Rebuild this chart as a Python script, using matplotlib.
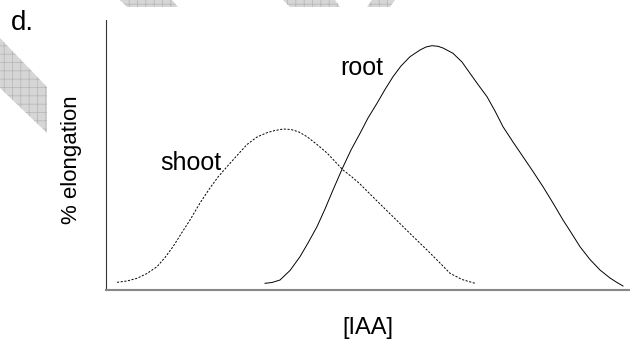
import matplotlib
matplotlib.use('Agg')
import matplotlib.pyplot as plt
from matplotlib.patches import Polygon

# values, arbitrary units (x = [IAA], y = % elongation)
shoot_x = [11, 21, 31, 41, 51, 59, 67, 75, 84, 94, 104, 112, 121, 131, 141, 151, 161, 169,
           177, 185, 193, 201, 211, 221, 229, 237, 246, 254, 270, 287, 304, 321, 334, 344,
           356, 369]
shoot_y = [7.7, 9, 11.7, 16.5, 23.3, 32.5, 43.3, 56, 70, 87, 102, 113, 123.3, 134.5,
           145.5, 153, 157.3, 159.5, 161, 160.5, 158, 153.3, 145.5, 137, 128.5, 120, 113,
           106, 90, 73.3, 56.5, 40, 27, 16.7, 10.5, 6.7]

root_x = [159, 166, 174, 184, 194, 202, 211, 219, 227, 237, 245, 254, 262, 271, 279, 287,
          295, 304, 314, 320, 326, 332, 337, 347, 356, 364, 372, 381, 389, 397, 407, 417,
          427, 437, 447, 457, 466, 474, 484, 494, 504, 511, 517]
root_y = [6.7, 7.5, 10, 19.5, 33.3, 47, 63.3, 81, 100, 123, 140, 156.6, 172, 186.7, 200.5,
          213.3, 224, 233.3, 240, 243, 244.3, 243.7, 242, 236.7, 228, 216.7, 205.5, 193.3,
          179, 163.3, 148, 133.3, 118.5, 103.3, 87, 70, 56, 43.3, 30.5, 20, 12, 7.5, 4]

plt.rcParams['font.family'] = ['Liberation Sans', 'DejaVu Sans']
plt.rcParams['hatch.linewidth'] = 0.5

fig = plt.figure(figsize=(6.3, 3.45), dpi=100)
ax = fig.add_axes([106 / 630, 55 / 345, 524 / 630, 270 / 345])

ax.plot(shoot_x, shoot_y, color='black', lw=0.7, linestyle=(0, (2.2, 1.6)))
ax.plot(root_x, root_y, color='black', lw=0.7)

ax.text(54, 120, 'shoot', fontsize=18, ha='left', va='baseline')
ax.text(234, 215, 'root', fontsize=18, ha='left', va='baseline')

ax.set_xlim(0, 524)
ax.set_ylim(0, 270)
ax.set_xticks([])
ax.set_yticks([])
ax.spines['top'].set_visible(False)
ax.spines['right'].set_visible(False)
ax.spines['left'].set_color('#333333')
ax.spines['left'].set_linewidth(0.8)
ax.spines['bottom'].set_color('#888888')
ax.spines['bottom'].set_linewidth(1.5)

fig.text(11 / 630, 1 - 30 / 345, 'd.', fontsize=20, ha='left', va='baseline')
fig.text(72 / 630, 1 - 160 / 345, '% elongation', fontsize=16, rotation=90,
         ha='center', va='center')
fig.text(368 / 630, 1 - 328 / 345, '[IAA]', fontsize=17, ha='center', va='center')

# grey cross-hatched stripes left over in the scan (decoration, pixel coords)
stripes = [
    [(0, 38), (47, 87), (47, 133), (0, 88)],
    [(120, 0), (172, 0), (178, 7), (127, 7)],
    [(283, 0), (335, 0), (340, 7), (290, 7)],
    [(372, 0), (395, 0), (390, 7), (367, 7)],
]
for pts in stripes:
    poly = Polygon([(px, 345 - py) for px, py in pts], closed=True, transform=None,
                   facecolor='#d6d6d6', edgecolor='#b4b4b4', hatch='++', lw=0)
    fig.patches.append(poly)

fig.savefig('out.png', dpi=100)
